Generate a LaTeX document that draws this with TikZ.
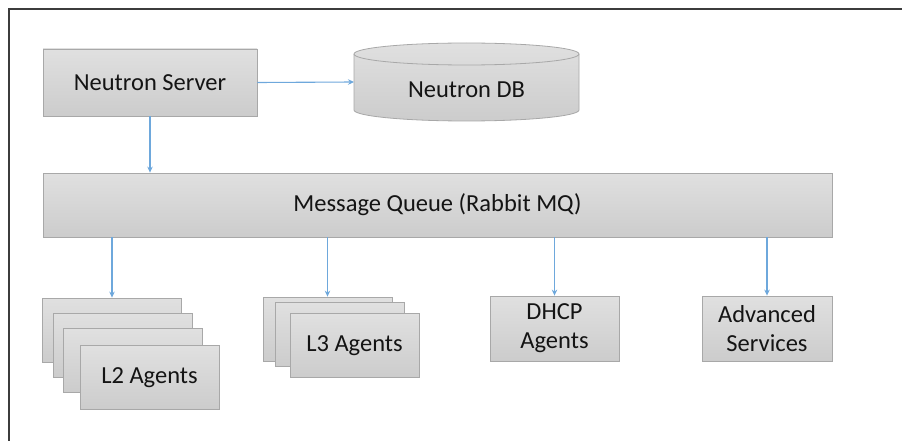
\documentclass[tikz,border=0pt]{standalone}
\usepackage{fontspec}
\setmainfont{Carlito}
\usetikzlibrary{arrows.meta}
\definecolor{boxline}{RGB}{168,168,168}
\definecolor{boxtop}{RGB}{224,224,224}
\definecolor{boxbot}{RGB}{204,204,204}
\definecolor{arrowblue}{RGB}{110,168,220}
\definecolor{txt}{RGB}{20,20,20}
\definecolor{frame}{RGB}{60,60,60}
\tikzset{
  gbox/.style={draw=boxline, line width=0.8pt, top color=boxtop, bottom color=boxbot,
    minimum width=#1, inner sep=0pt, align=center, text=txt,
    font=\fontsize{24.5}{29}\selectfont},
  gbox/.default=139pt,
  arr/.style={draw=arrowblue, line width=1.1pt, -{Stealth[length=6pt,width=5.5pt]}}
}
\begin{document}
\begin{tikzpicture}[x=1pt,y=-1pt]
\useasboundingbox (0,0) rectangle (902,441);
% frame
\draw[frame, line width=1.2pt] (9,445) -- (9,9) -- (905,9);
% Neutron Server
\node[gbox=214pt, minimum height=67pt] (ns) at (150,82.5) {Neutron Server};
% Neutron DB cylinder
\shade[top color=boxtop, bottom color=boxbot, draw=boxline, line width=0.8pt]
  (354,54) -- (354,110) arc[start angle=180, end angle=360, x radius=112.5, y radius=-11]
  -- (579,54) arc[start angle=0, end angle=180, x radius=112.5, y radius=-11] -- cycle;
\draw[boxline, line width=0.8pt] (354,54) arc[start angle=180, end angle=360, x radius=112.5, y radius=-11];
\node[text=txt, font=\fontsize{24.5}{29}\selectfont] (db) at (466.5,90) {Neutron DB};
\coordinate (dbw) at (354,82);
% Message queue
\node[gbox=789pt, minimum height=64pt] (mq) at (437.5,205) {Message Queue (Rabbit MQ)};
% L2 stack
\node[gbox, minimum height=64pt] (l2a) at (112,330) {};
\node[gbox, minimum height=64pt] (l2b) at (122.5,345) {};
\node[gbox, minimum height=64pt] (l2c) at (132.5,360.5) {};
\node[gbox, minimum height=64pt] (l2d) at (149.5,377.5) {L2 Agents};
% L3 stack
\node[gbox=129pt, minimum height=64pt] (l3a) at (327.5,329) {};
\node[gbox=129pt, minimum height=64pt] (l3b) at (339.5,334.5) {};
\node[gbox=129pt, minimum height=64pt] (l3c) at (354.5,345.5) {L3 Agents};
% DHCP
\node[gbox=129pt, minimum height=65pt] (dhcp) at (554.5,328.5) {DHCP\\Agents};
% Advanced
\node[gbox=130pt, minimum height=65pt] (adv) at (767,328.5) {Advanced\\Services};
% connectors
\draw[arr] (ns.east) -- (dbw);
\draw[arr] (ns.south) -- (ns.south |- mq.north);
\draw[arr] (l2a.north |- mq.south) -- (l2a.north);
\draw[arr] (l3a.north |- mq.south) -- (l3a.north);
\draw[arr] (dhcp.north |- mq.south) -- (dhcp.north);
\draw[arr] (adv.north |- mq.south) -- (adv.north);
\end{tikzpicture}
\end{document}
